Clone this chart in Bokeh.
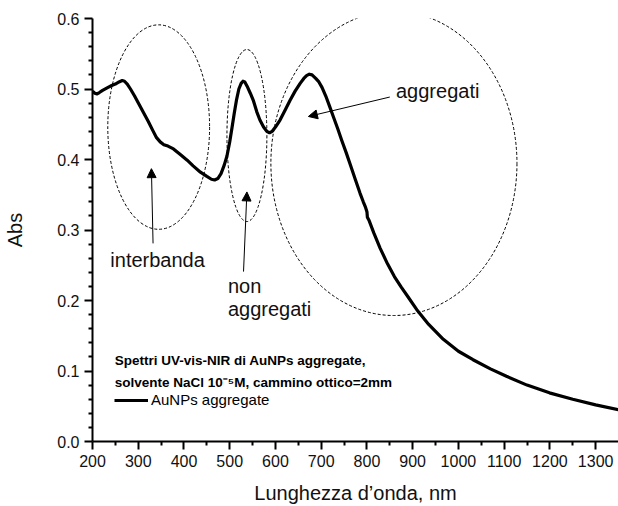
from bokeh.plotting import figure
from bokeh.models import (ColumnDataSource, Arrow, NormalHead, FixedTicker,
                          PrintfTickFormatter, Legend, LegendItem)
from bokeh.core.properties import value
from bokeh.embed import file_html
from bokeh.resources import INLINE

# spectrum: wavelength (nm) and absorbance
wavelength = [200, 205, 210, 215, 222, 233, 242, 250, 258, 265, 270, 276, 283, 292, 302, 312,
              322, 332, 340, 348, 356, 365, 377, 392, 407, 420, 436, 450, 460, 467, 474, 481,
              488, 494, 500, 505, 510, 515, 520, 525, 529, 533, 538, 545, 552, 559, 566, 574,
              581, 587, 593, 600, 610, 621, 632, 643, 654, 662, 668, 674, 680, 688, 695, 702,
              710, 718, 727, 736, 745, 755, 765, 775, 785, 792, 797, 800, 801, 805, 815, 829,
              845, 860, 875, 890, 909, 935, 967, 1000, 1032, 1070, 1105, 1150, 1199, 1250,
              1300, 1350]
absorbance = [0.497, 0.494, 0.493, 0.495, 0.498, 0.502, 0.505, 0.507, 0.510, 0.512, 0.511, 0.507,
              0.500, 0.490, 0.478, 0.466, 0.454, 0.441, 0.431, 0.425, 0.421, 0.419, 0.415, 0.407,
              0.399, 0.391, 0.382, 0.376, 0.372, 0.371, 0.373, 0.380, 0.392, 0.405, 0.425, 0.445,
              0.466, 0.485, 0.500, 0.508, 0.511, 0.510, 0.504, 0.494, 0.483, 0.468, 0.456, 0.446,
              0.440, 0.438, 0.440, 0.446, 0.456, 0.470, 0.484, 0.497, 0.508, 0.515, 0.519, 0.521,
              0.520, 0.515, 0.510, 0.502, 0.490, 0.476, 0.460, 0.444, 0.427, 0.409, 0.390, 0.371,
              0.352, 0.340, 0.332, 0.326, 0.318, 0.313, 0.296, 0.274, 0.252, 0.234, 0.219, 0.205,
              0.187, 0.166, 0.145, 0.128, 0.116, 0.103, 0.0925, 0.080, 0.069, 0.060, 0.052, 0.045]

# axis ticks
x_ticks = [200, 300, 400, 500, 600, 700, 800, 900, 1000, 1100, 1200, 1300]
x_minor = [250, 350, 450, 550, 650, 750, 850, 950, 1050, 1150, 1250]
y_ticks = [0.0, 0.1, 0.2, 0.3, 0.4, 0.5, 0.6]
y_minor = [0.02, 0.04, 0.06, 0.08, 0.12, 0.14, 0.16, 0.18, 0.22, 0.24, 0.26, 0.28,
           0.32, 0.34, 0.36, 0.38, 0.42, 0.44, 0.46, 0.48, 0.52, 0.54, 0.56, 0.58]

# dashed ellipses (centre, width, height in data units)
ell_x = [344.7, 537.6, 859.0]
ell_y = [0.446, 0.434, 0.3945]
ell_w = [222.6, 87.3, 538.0]
ell_h = [0.290, 0.244, 0.4316]

# annotation arrows
arr_x0 = [332.4, 530.2, 850.0]
arr_y0 = [0.281, 0.241, 0.4886]
arr_x1 = [328.8, 537.6, 672.0]
arr_y1 = [0.387, 0.354, 0.461]

# annotation texts
ann_text = ["interbanda", "non", "aggregati", "aggregati"]
ann_x = [239.0, 496.0, 496.0, 863.5]
ann_y = [0.258, 0.2207, 0.1877, 0.497]

legend_title = ["Spettri UV-vis-NIR di AuNPs aggregate,",
                "solvente NaCl 10\u207b\u2075M, cammino ottico=2mm"]
legend_title_x = [248.8, 248.8]
legend_title_y = [0.1146, 0.0839]
series_name = "AuNPs aggregate"

FONT = "Liberation Sans"

p = figure(width=618, height=506, output_backend="svg", toolbar_location=None,
           x_range=(200, 1350), y_range=(0, 0.6),
           min_border_left=92, min_border_right=0, min_border_top=18, min_border_bottom=64)
p.outline_line_color = None
p.xgrid.visible = False
p.ygrid.visible = False

spec = p.line(wavelength, absorbance, line_color="black", line_width=3.2, line_join="round")

p.ellipse(x=ell_x, y=ell_y, width=ell_w, height=ell_h, fill_color=None,
          line_color="black", line_width=1, line_dash="3 2")

asrc = ColumnDataSource(dict(x0=arr_x0, y0=arr_y0, x1=arr_x1, y1=arr_y1))
p.add_layout(Arrow(source=asrc, x_start="x0", y_start="y0", x_end="x1", y_end="y1",
                   line_color="black", line_width=1,
                   end=NormalHead(size=9, fill_color="black", line_color="black", line_width=1)))

p.text(x=ann_x, y=ann_y, text=ann_text, text_font=value(FONT), text_font_size="20px",
       text_color="#111111", text_baseline="alphabetic", text_align="left")

p.text(x=legend_title_x, y=legend_title_y, text=legend_title, text_font=value(FONT),
       text_font_size="13.5px", text_font_style="bold", text_color="black",
       text_baseline="middle", text_align="left")

leg = Legend(items=[LegendItem(label=series_name, renderers=[spec])],
             location=(22, 33), padding=0, margin=0, spacing=0,
             glyph_width=34, glyph_height=16, label_height=16, label_standoff=3,
             border_line_color=None, background_fill_alpha=0,
             label_text_font=FONT, label_text_font_size="15px", label_text_color="black")
p.add_layout(leg)

p.axis.axis_line_width = 2
p.axis.axis_line_color = "black"
p.axis.major_tick_line_color = "black"
p.axis.minor_tick_line_color = "black"
p.axis.major_tick_line_width = 2
p.axis.minor_tick_line_width = 2
p.axis.major_tick_in = 0
p.axis.major_tick_out = 8
p.axis.minor_tick_in = 0
p.axis.minor_tick_out = 4
p.axis.major_label_text_font = FONT
p.axis.major_label_text_font_size = "16px"
p.axis.major_label_text_color = "#111111"
p.axis.axis_label_text_font = FONT
p.axis.axis_label_text_font_size = "20px"
p.axis.axis_label_text_font_style = "normal"
p.axis.axis_label_text_color = "#111111"

p.xaxis.ticker = FixedTicker(ticks=x_ticks, minor_ticks=x_minor)
p.yaxis.ticker = FixedTicker(ticks=y_ticks, minor_ticks=y_minor)
p.yaxis.formatter = PrintfTickFormatter(format="%.1f")
p.xaxis.axis_label = "Lunghezza d\u2019onda, nm"
p.yaxis.axis_label = "Abs"
p.xaxis.major_label_standoff = 5
p.yaxis.major_label_standoff = 5
p.xaxis.axis_label_standoff = 12
p.yaxis.axis_label_standoff = 28

open("out.html", "w").write(file_html(p, INLINE))
